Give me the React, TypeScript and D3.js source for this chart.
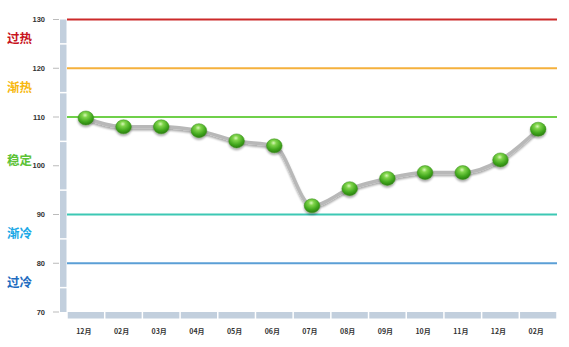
import React from "react";
import * as d3 from "d3";

const months = ["12月", "02月", "03月", "04月", "05月", "06月", "07月", "08月", "09月", "10月", "11月", "12月", "02月"];
const values = [109.8, 108.0, 108.0, 107.2, 105.1, 104.1, 91.8, 95.3, 97.4, 98.6, 98.6, 101.2, 107.5];
const yTicks = [130, 120, 110, 100, 90, 80, 70];
const zoneLines = [
  { value: 130, color: "#cc2a2a" },
  { value: 120, color: "#f5b13c" },
  { value: 110, color: "#6fd04a" },
  { value: 90, color: "#3cc8b4" },
  { value: 80, color: "#5b9fd6" },
];
const zoneLabels = [
  { text: "过热", value: 126, color: "#c8141e" },
  { text: "渐热", value: 116, color: "#f7b80f" },
  { text: "稳定", value: 101, color: "#5cc236" },
  { text: "渐冷", value: 86, color: "#1aa8e6" },
  { text: "过冷", value: 76, color: "#1e6cc0" },
];

const W = 569;
const H = 347;
const left = 67;
const right = 557;
const top = 19.5;
const bottom = 312;

export default function App() {
  const x = d3.scaleBand<number>().domain(d3.range(months.length)).range([left, right]);
  const y = d3.scaleLinear().domain([70, 130]).range([bottom, top]);
  const line = d3
    .line<number>()
    .x((_, i) => (x(i) as number) + x.bandwidth() / 2)
    .y((d) => y(d))
    .curve(d3.curveMonotoneX);

  // vertical axis bar segments, centred on each major tick
  const step = y(120) - y(130);
  const vSegs = yTicks.map((t) => {
    const c = y(t);
    const a = Math.max(top, c - step / 2);
    const b = Math.min(bottom, c + step / 2);
    return [a, b];
  });

  return (
    <svg width={W} height={H} style={{ position: "absolute", left: 0, top: 0, background: "#fff" }}>
      <defs>
        <radialGradient id="ball" cx="45%" cy="30%" r="70%">
          <stop offset="0%" stopColor="#d8f7b8" />
          <stop offset="25%" stopColor="#7fd44a" />
          <stop offset="70%" stopColor="#3fa51c" />
          <stop offset="100%" stopColor="#2c7d10" />
        </radialGradient>
        <filter id="shadow" x="-20%" y="-20%" width="140%" height="160%">
          <feGaussianBlur in="SourceAlpha" stdDeviation="1.2" />
          <feOffset dx="0" dy="1.5" result="b" />
          <feComponentTransfer>
            <feFuncA type="linear" slope="0.35" />
          </feComponentTransfer>
          <feMerge>
            <feMergeNode />
            <feMergeNode in="SourceGraphic" />
          </feMerge>
        </filter>
      </defs>

      {/* vertical axis bar */}
      {vSegs.map(([a, b], i) => (
        <rect key={"v" + i} x={60} y={a + (i === 0 ? 0 : 0.75)} width={6.5} height={b - a - (i === 0 || i === vSegs.length - 1 ? 0.75 : 1.5)} fill="#c2cfdd" />
      ))}
      {/* horizontal axis bar */}
      {months.map((_, i) => (
        <rect key={"h" + i} x={(x(i) as number) + 0.75} y={bottom} width={x.bandwidth() - 1.5} height={6.5} fill="#c2cfdd" />
      ))}

      {/* y ticks and labels */}
      {yTicks.map((t) => (
        <g key={t}>
          <line x1={53} x2={59} y1={y(t)} y2={y(t)} stroke="#bbbbbb" strokeWidth={1} />
          <text x={45} y={y(t)} dy="0.35em" textAnchor="end" fontSize={7.5} fontWeight="bold" fontFamily="Arial, Liberation Sans, sans-serif" fill="#333">
            {t}
          </text>
        </g>
      ))}

      {/* zone lines */}
      {zoneLines.map((z) => (
        <line key={z.value} x1={left} x2={right} y1={y(z.value)} y2={y(z.value)} stroke={z.color} strokeWidth={2} />
      ))}

      {/* zone labels */}
      {zoneLabels.map((z) => (
        <text key={z.text} x={7} y={y(z.value)} dy="0.35em" fontSize={12.5} fontWeight="bold" fontFamily="Noto Sans CJK SC, sans-serif" fill={z.color}>
          {z.text}
        </text>
      ))}

      {/* x labels */}
      {months.map((m, i) => (
        <text key={"m" + i} x={(x(i) as number) + x.bandwidth() / 2 - 2} y={332} dy="0.35em" textAnchor="middle" fontSize={7} fontWeight="bold" fontFamily="Noto Sans CJK SC, sans-serif" fill="#333">
          {m}
        </text>
      ))}

      {/* series */}
      <path d={line(values) || ""} fill="none" stroke="#b8b8b8" strokeWidth={3.5} strokeLinecap="round" filter="url(#shadow)" />
      {values.map((v, i) => (
        <ellipse key={"p" + i} cx={(x(i) as number) + x.bandwidth() / 2} cy={y(v)} rx={7.8} ry={7} fill="url(#ball)" stroke="#3a8f1a" strokeWidth={0.5} filter="url(#shadow)" />
      ))}
    </svg>
  );
}
